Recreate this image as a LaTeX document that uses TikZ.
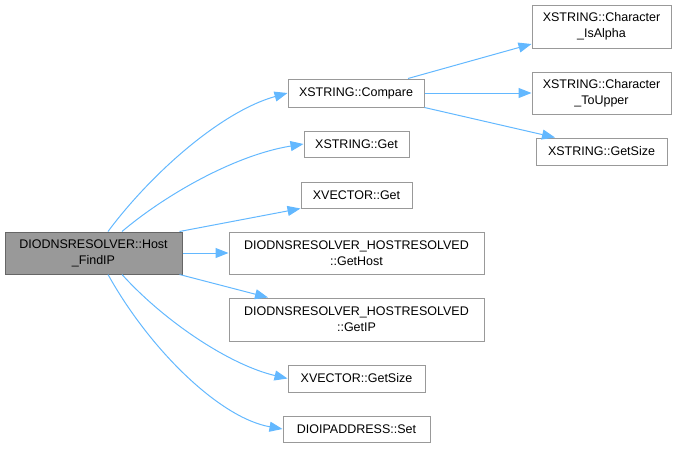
\documentclass[tikz,border=0pt]{standalone}
\usepackage{fontspec}
\setmainfont{Liberation Sans}
\usetikzlibrary{arrows.meta}
\definecolor{edgec}{HTML}{63B8FF}
\definecolor{boxb}{HTML}{999999}
\definecolor{mainf}{HTML}{999999}
\definecolor{mainb}{HTML}{666666}
\begin{document}
\begin{tikzpicture}[x=1pt,y=-1pt,
  box/.style={draw=boxb, line width=1pt, fill=white, inner sep=0pt, align=center,
    font=\fontsize{12.5}{16}\selectfont},
  mainbox/.style={box, draw=mainb, fill=mainf},
  call/.style={draw=edgec, line width=1pt, -{Triangle[length=13pt,width=10pt]}}]
\useasboundingbox (0,0) rectangle (677,448);
\node[mainbox, minimum width=177pt, minimum height=42pt] (main) at (93.5,253) {DIODNSRESOLVER::Host\\\_FindIP};
\node[box, minimum width=136pt, minimum height=28pt] (cmp) at (356,93) {XSTRING::Compare};
\node[box, minimum width=139pt, minimum height=43pt] (alpha) at (601.5,26.5) {XSTRING::Character\\\_IsAlpha};
\node[box, minimum width=139pt, minimum height=42pt] (upper) at (601.5,93) {XSTRING::Character\\\_ToUpper};
\node[box, minimum width=131pt, minimum height=27pt] (xsize) at (601.5,151.5) {XSTRING::GetSize};
\node[box, minimum width=105pt, minimum height=26pt] (xget) at (356.5,144) {XSTRING::Get};
\node[box, minimum width=111pt, minimum height=26pt] (vget) at (356.5,195) {XVECTOR::Get};
\node[box, minimum width=255pt, minimum height=42pt] (host) at (356.5,253) {DIODNSRESOLVER\_HOSTRESOLVED\\::GetHost};
\node[box, minimum width=255pt, minimum height=43pt] (ip) at (356.5,319.5) {DIODNSRESOLVER\_HOSTRESOLVED\\::GetIP};
\node[box, minimum width=137pt, minimum height=27pt] (vsize) at (356.5,378.5) {XVECTOR::GetSize};
\node[box, minimum width=147pt, minimum height=26pt] (set) at (356.5,429) {DIOIPADDRESS::Set};

\draw[call] ([xshift=14.5pt]main.north) .. controls (150,175) and (220,112) .. (cmp.west);
\draw[call] ([xshift=28.5pt]main.north) .. controls (165,195) and (235,155) .. (xget.west);
\draw[call] ([xshift=-3pt]main.north east) -- (vget.south west);
\draw[call] (main.east) -- (host.west);
\draw[call] ([xshift=-3pt]main.south east) -- ([xshift=-88.5pt]ip.north);
\draw[call] ([xshift=28.5pt]main.south) .. controls (165,322) and (230,365) .. (vsize.west);
\draw[call] ([xshift=14.5pt]main.south) .. controls (150,350) and (220,418) .. (set.west);
\draw[call] ([xshift=52pt]cmp.north) -- ([yshift=-17.5pt]alpha.west);
\draw[call] (cmp.east) -- (upper.west);
\draw[call] (cmp.south east) -- ([xshift=-46.5pt]xsize.north);
\end{tikzpicture}
\end{document}
